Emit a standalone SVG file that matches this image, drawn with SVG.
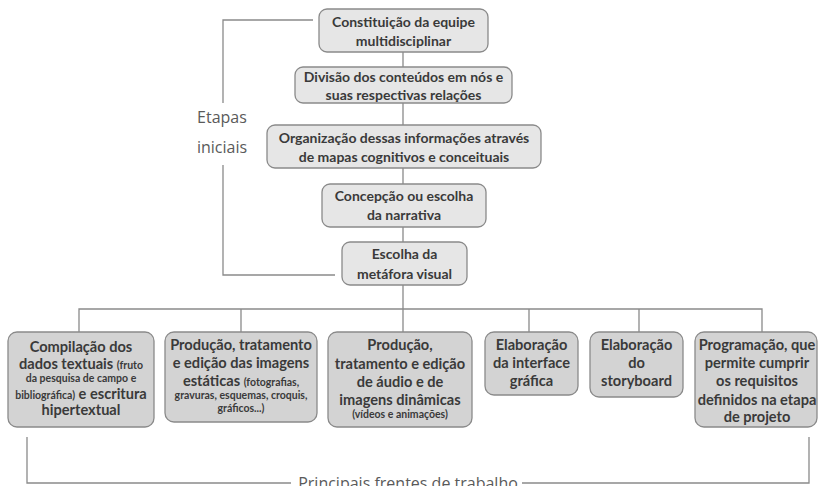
<svg xmlns="http://www.w3.org/2000/svg" width="818" height="486" viewBox="0 0 818 486">
<style>
.top rect{fill:#e6e6e6;stroke:#8a8a8a;stroke-width:1.3}
.bot rect{fill:#d3d3d3;stroke:#8a8a8a;stroke-width:1.3}
text{font-family:Lato,"Liberation Sans",sans-serif;font-weight:bold;fill:#3a3a3a;text-anchor:middle}
.top text{font-size:14px}
.bot text{font-size:14.6px}
.bot .s{font-size:10.5px}
.lbl{font-weight:normal;font-family:"Open Sans","Liberation Sans",sans-serif;fill:#5a5a5a;font-size:16px}
.c{fill:none;stroke:#8a8a8a;stroke-width:1.3}
</style>
<rect width="818" height="486" fill="#fff"/>
<g id="connectors" class="c">
<path d="M403 52V67M403 103V125M403 168V184M403 227V242M403 285V309"/>
<path d="M79 332V309H762V332M241 309V332M403 309V332M529 309V332M639 309V332"/>
<path d="M313 20H223V103M223 165V275H335"/>
<path d="M27 437V483H291M522 483H809V437"/>
</g>
<g id="n1" class="top"><rect x="319" y="9" width="169" height="43" rx="8"/><text x="403.5" y="27">Constituição da equipe</text><text x="403.5" y="46">multidisciplinar</text></g>
<g id="n2" class="top"><rect x="295" y="67" width="217" height="36" rx="8"/><text x="403.5" y="82">Divisão dos conteúdos em nós e</text><text x="403.5" y="100">suas respectivas relações</text></g>
<g id="n3" class="top"><rect x="267" y="125" width="274" height="43" rx="8"/><text x="404" y="143">Organização dessas informações através</text><text x="404" y="162">de mapas cognitivos e conceituais</text></g>
<g id="n4" class="top"><rect x="322" y="184" width="164" height="43" rx="8"/><text x="404" y="201">Concepção ou escolha</text><text x="404" y="220">da narrativa</text></g>
<g id="n5" class="top"><rect x="342" y="242" width="125" height="43" rx="8"/><text x="404.5" y="259">Escolha da</text><text x="404.5" y="279">metáfora visual</text></g>
<g id="etapas"><text class="lbl" x="222" y="123">Etapas</text><text class="lbl" x="222" y="153">iniciais</text></g>
<g id="b1" class="bot"><rect x="8" y="332" width="146" height="95" rx="9"/>
<text x="81" y="352">Compilação dos</text>
<text x="81" y="369">dados textuais <tspan class="s">(fruto</tspan></text>
<text x="81" y="382" class="s">da pesquisa de campo e</text>
<text x="81" y="399"><tspan class="s">bibliográfica)</tspan> e escritura</text>
<text x="81" y="415">hipertextual</text></g>
<g id="b2" class="bot"><rect x="165" y="332" width="152" height="90" rx="9"/>
<text x="241" y="350">Produção, tratamento</text>
<text x="241" y="368">e edição das imagens</text>
<text x="241" y="386">estáticas <tspan class="s">(fotografias,</tspan></text>
<text x="241" y="399" class="s">gravuras, esquemas, croquis,</text>
<text x="241" y="412" class="s">gráficos...)</text></g>
<g id="b3" class="bot"><rect x="328" y="332" width="144" height="95" rx="9"/>
<text x="400" y="350">Produção,</text>
<text x="400" y="369">tratamento e edição</text>
<text x="400" y="387">de áudio e de</text>
<text x="400" y="405">imagens dinâmicas</text>
<text x="400" y="418" class="s">(vídeos e animações)</text></g>
<g id="b4" class="bot"><rect x="485" y="332" width="93" height="63" rx="9"/>
<text x="531.5" y="350">Elaboração</text>
<text x="531.5" y="368">da interface</text>
<text x="531.5" y="386">gráfica</text></g>
<g id="b5" class="bot"><rect x="590" y="332" width="93" height="65" rx="9"/>
<text x="636.5" y="350">Elaboração</text>
<text x="636.5" y="368">do</text>
<text x="636.5" y="386">storyboard</text></g>
<g id="b6" class="bot"><rect x="695" y="332" width="122" height="95" rx="9"/>
<text x="757" y="350">Programação, que</text>
<text x="757" y="368">permite cumprir</text>
<text x="757" y="386">os requisitos</text>
<text x="757" y="405">definidos na etapa</text>
<text x="757" y="422">de projeto</text></g>
<g id="principais"><text class="lbl" x="408" y="489">Principais frentes de trabalho</text></g>
</svg>
